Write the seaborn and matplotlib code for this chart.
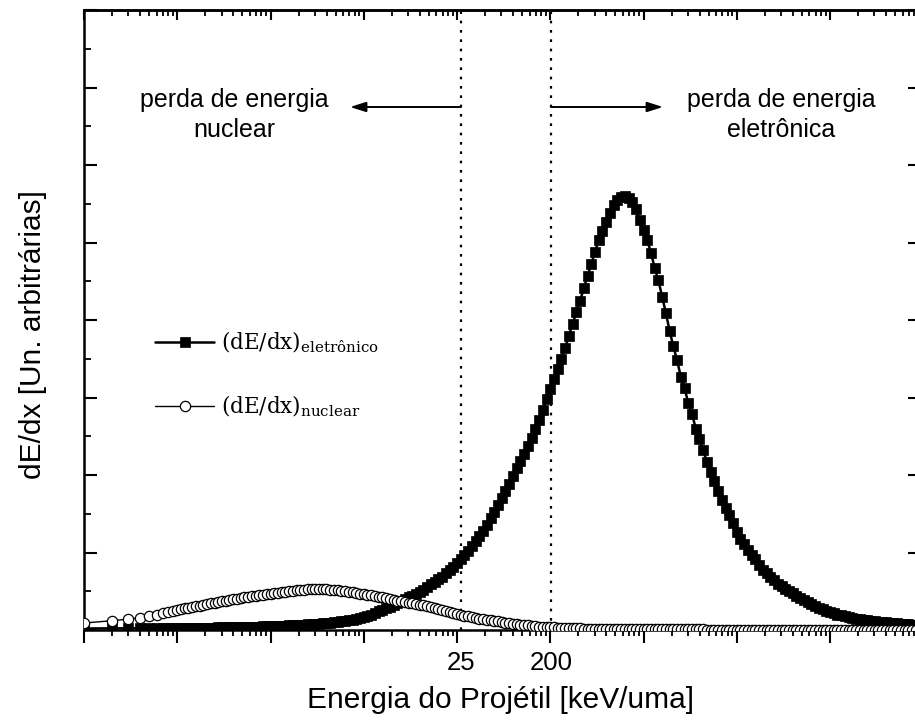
import numpy as np
import pandas as pd
import matplotlib
matplotlib.use("Agg")
import matplotlib.pyplot as plt
import matplotlib.transforms as mtransforms
from matplotlib.ticker import LogLocator, MultipleLocator, NullFormatter, NullLocator
import seaborn as sns

# ---------------- data ----------------
# log10 of the projectile energy (arbitrary axis units, one decade per major tick)
log_energia = [
    0.000, 0.301, 0.477, 0.602, 0.699, 0.778, 0.845, 0.903, 0.954,
    1.00, 1.04, 1.08, 1.12, 1.16, 1.20, 1.24, 1.28, 1.32, 1.36,
    1.40, 1.44, 1.48, 1.52, 1.56, 1.60, 1.64, 1.68, 1.72, 1.76,
    1.80, 1.84, 1.88, 1.92, 1.96, 2.00, 2.04, 2.08, 2.12, 2.16,
    2.20, 2.24, 2.28, 2.32, 2.36, 2.40, 2.44, 2.48, 2.52, 2.56,
    2.60, 2.64, 2.68, 2.72, 2.76, 2.80, 2.84, 2.88, 2.92, 2.96,
    3.00, 3.04, 3.08, 3.12, 3.16, 3.20, 3.24, 3.28, 3.32, 3.36,
    3.40, 3.44, 3.48, 3.52, 3.56, 3.60, 3.64, 3.68, 3.72, 3.76,
    3.80, 3.84, 3.88, 3.92, 3.96, 4.00, 4.04, 4.08, 4.12, 4.16,
    4.20, 4.24, 4.28, 4.32, 4.36, 4.40, 4.44, 4.48, 4.52, 4.56,
    4.60, 4.64, 4.68, 4.72, 4.76, 4.80, 4.84, 4.88, 4.92, 4.96,
    5.00, 5.04, 5.08, 5.12, 5.16, 5.20, 5.24, 5.28, 5.32, 5.36,
    5.40, 5.44, 5.48, 5.52, 5.56, 5.60, 5.64, 5.68, 5.72, 5.76,
    5.80, 5.84, 5.88, 5.92, 5.96, 6.00, 6.04, 6.08, 6.12, 6.16,
    6.20, 6.24, 6.28, 6.32, 6.36, 6.40, 6.44, 6.48, 6.52, 6.56,
    6.60, 6.64, 6.68, 6.72, 6.76, 6.80, 6.84, 6.88, 6.92, 6.96,
    7.00, 7.04, 7.08, 7.12, 7.16, 7.20, 7.24, 7.28, 7.32, 7.36,
    7.40, 7.44, 7.48, 7.52, 7.56, 7.60, 7.64, 7.68, 7.72, 7.76,
    7.80, 7.84, 7.88, 7.92, 7.96, 8.00, 8.04, 8.08, 8.12, 8.16,
    8.20, 8.24, 8.28, 8.32, 8.36, 8.40, 8.44, 8.48, 8.52, 8.56,
    8.60, 8.64, 8.68, 8.72, 8.76, 8.80, 8.84, 8.88, 8.92,
]

dedx_eletronico = [
    0.020, 0.021, 0.021, 0.022, 0.022, 0.023, 0.023, 0.024, 0.024,
    0.025, 0.026, 0.026, 0.027, 0.028, 0.029, 0.030, 0.030, 0.031, 0.032,
    0.032, 0.033, 0.034, 0.034, 0.035, 0.036, 0.037, 0.038, 0.039, 0.041,
    0.042, 0.043, 0.045, 0.046, 0.048, 0.049, 0.051, 0.053, 0.055, 0.057,
    0.059, 0.061, 0.064, 0.067, 0.070, 0.073, 0.076, 0.079, 0.083, 0.087,
    0.091, 0.096, 0.101, 0.107, 0.113, 0.120, 0.127, 0.135, 0.143, 0.152,
    0.165, 0.180, 0.200, 0.220, 0.240, 0.260, 0.280, 0.300, 0.320, 0.345,
    0.370, 0.395, 0.420, 0.445, 0.470, 0.495, 0.520, 0.555, 0.590, 0.625,
    0.660, 0.690, 0.730, 0.770, 0.815, 0.860, 0.910, 0.965, 1.020, 1.080,
    1.145, 1.210, 1.280, 1.360, 1.440, 1.520, 1.610, 1.700, 1.800, 1.890,
    1.990, 2.090, 2.180, 2.270, 2.370, 2.480, 2.590, 2.710, 2.840, 2.980,
    3.110, 3.240, 3.370, 3.500, 3.640, 3.800, 3.950, 4.100, 4.250, 4.410,
    4.570, 4.720, 4.880, 5.030, 5.150, 5.270, 5.380, 5.480, 5.550, 5.590,
    5.600, 5.580, 5.520, 5.430, 5.290, 5.160, 5.030, 4.870, 4.670, 4.510,
    4.300, 4.090, 3.860, 3.660, 3.480, 3.270, 3.120, 2.930, 2.790, 2.600,
    2.460, 2.320, 2.170, 2.040, 1.920, 1.800, 1.680, 1.580, 1.490, 1.380,
    1.270, 1.180, 1.110, 1.030, 0.965, 0.910, 0.840, 0.770, 0.730, 0.680,
    0.640, 0.600, 0.570, 0.535, 0.505, 0.475, 0.440, 0.410, 0.385, 0.360,
    0.335, 0.310, 0.290, 0.270, 0.250, 0.230, 0.215, 0.200, 0.190, 0.175,
    0.165, 0.155, 0.145, 0.138, 0.131, 0.125, 0.119, 0.114, 0.108, 0.103,
    0.098, 0.094, 0.089, 0.085, 0.081, 0.077, 0.073, 0.069, 0.066,
]

dedx_nuclear = [
    0.090, 0.120, 0.140, 0.160, 0.180, 0.200, 0.215, 0.235, 0.250,
    0.260, 0.270, 0.280, 0.290, 0.300, 0.307, 0.315, 0.324, 0.333, 0.342,
    0.351, 0.360, 0.369, 0.378, 0.386, 0.395, 0.404, 0.413, 0.421, 0.429,
    0.436, 0.443, 0.449, 0.455, 0.461, 0.467, 0.474, 0.481, 0.488, 0.495,
    0.502, 0.508, 0.513, 0.517, 0.521, 0.524, 0.526, 0.527, 0.528, 0.527,
    0.525, 0.522, 0.518, 0.514, 0.509, 0.503, 0.496, 0.488, 0.479, 0.470,
    0.463, 0.456, 0.449, 0.442, 0.432, 0.421, 0.410, 0.400, 0.390, 0.380,
    0.370, 0.360, 0.354, 0.345, 0.336, 0.327, 0.318, 0.310, 0.298, 0.287,
    0.275, 0.263, 0.250, 0.236, 0.222, 0.208, 0.197, 0.186, 0.176, 0.166,
    0.157, 0.148, 0.140, 0.132, 0.125, 0.118, 0.110, 0.102, 0.094, 0.087,
    0.081, 0.075, 0.069, 0.064, 0.059, 0.054, 0.049, 0.045, 0.041, 0.038,
    0.035, 0.033, 0.031, 0.029, 0.027, 0.025, 0.023, 0.022, 0.020, 0.019,
    0.018, 0.017, 0.016, 0.015, 0.0145, 0.014, 0.0135, 0.013, 0.0125, 0.012,
    0.0117, 0.0114, 0.0111, 0.0108, 0.0105, 0.0102, 0.0099, 0.0096, 0.0093, 0.009,
    0.0088, 0.0086, 0.0084, 0.0082, 0.008, 0.0078, 0.0076, 0.0074, 0.0072, 0.007,
    0.0068, 0.0066, 0.0064, 0.0062, 0.006, 0.0059, 0.0058, 0.0057, 0.0056, 0.0055,
    0.0053, 0.0052, 0.0051, 0.005, 0.0049, 0.0048, 0.0047, 0.0046, 0.0045, 0.0044,
    0.0043, 0.0042, 0.0041, 0.004, 0.0039, 0.0038, 0.0037, 0.0036, 0.0035, 0.0034,
    0.0033, 0.0032, 0.0031, 0.003, 0.0029, 0.0028, 0.0028, 0.0027, 0.0027, 0.0026,
    0.0026, 0.0025, 0.0025, 0.0024, 0.0024, 0.0023, 0.0023, 0.0022, 0.0022, 0.0021,
    0.0021, 0.002, 0.002, 0.002, 0.0019, 0.0019, 0.0019, 0.0018, 0.0018,
]

# energies of the two regime boundaries and their printed labels
limites_energia = [1.1e4, 1.02e5]
rotulos_limites = ["25", "200"]

serie_eletronico = r"(dE/dx)$_{\mathregular{eletrônico}}$"
serie_nuclear = r"(dE/dx)$_{\mathregular{nuclear}}$"
texto_nuclear = "perda de energia\nnuclear"
texto_eletronico = "perda de energia\neletrônica"
titulo_x = "Energia do Projétil [keV/uma]"
titulo_y = "dE/dx [Un. arbitrárias]"

# ---------------- figure ----------------
sns.set_style("ticks")
plt.rcParams["font.family"] = ["Liberation Sans", "DejaVu Sans"]
plt.rcParams["mathtext.fontset"] = "dejavuserif"
plt.rcParams["text.color"] = "black"
plt.rcParams["axes.labelcolor"] = "black"
plt.rcParams["axes.edgecolor"] = "black"

W, H = 915, 720
fig = plt.figure(figsize=(W / 100, H / 100), dpi=100)
L, R, B, T = 84, 919, 630, 10
ax = fig.add_axes([L / W, (H - B) / H, (R - L) / W, (B - T) / H])
ax.set_xscale("log")

df = pd.DataFrame({
    "energia": [10 ** v for v in log_energia],
    "eletronico": dedx_eletronico,
    "nuclear": dedx_nuclear,
})

sns.lineplot(data=df, x="energia", y="eletronico", ax=ax, color="black",
             lw=1.8, marker="s", ms=7.2, mfc="black", mec="black", mew=0.5,
             label=serie_eletronico, zorder=3, sort=False)
sns.lineplot(data=df, x="energia", y="nuclear", ax=ax, color="black",
             lw=1.0, marker="o", ms=7.4, mfc="white", mec="black", mew=0.9,
             label=serie_nuclear, zorder=4, sort=False)

ax.set_xlim(1, 10 ** ((R - L) / 93.25))
ax.set_ylim(0, 8)

# boundaries
blend = mtransforms.blended_transform_factory(ax.transData, ax.transAxes)
for xv, lab in zip(limites_energia, rotulos_limites):
    ax.axvline(xv, color="black", lw=1.6, linestyle=(0, (1.2, 3.0)), zorder=2)
    ax.text(xv, -0.053, lab, transform=blend, ha="center", va="center",
            fontsize=18.5, clip_on=False)

# regime annotations
ax.text((234 - L) / (R - L), (B - 115) / (B - T), texto_nuclear, transform=ax.transAxes,
        ha="center", va="center", fontsize=18, linespacing=1.3, multialignment="center")
ax.text((781 - L) / (R - L), (B - 115) / (B - T), texto_eletronico, transform=ax.transAxes,
        ha="center", va="center", fontsize=18, linespacing=1.3, multialignment="center")
arrow_kw = dict(arrowstyle="-|>,head_length=0.95,head_width=0.3", color="black",
                lw=1.4, shrinkA=0, shrinkB=0, mutation_scale=10)
ya = (B - 107) / (B - T)
ax.annotate("", xy=(10 ** 2.853, ya), xytext=(limites_energia[0], ya),
            xycoords=("data", "axes fraction"), textcoords=("data", "axes fraction"),
            arrowprops=arrow_kw)
ax.annotate("", xy=(10 ** 6.209, ya), xytext=(limites_energia[1], ya),
            xycoords=("data", "axes fraction"), textcoords=("data", "axes fraction"),
            arrowprops=arrow_kw)

# axis labels
ax.set_xlabel(titulo_x, fontsize=21.5, va="center")
ax.xaxis.set_label_coords((500 - L) / (R - L), (B - 700) / (B - T))
ax.set_ylabel(titulo_y, fontsize=21.5, va="center")
ax.yaxis.set_label_coords((33 - L) / (R - L), (B - 335) / (B - T))

# ticks
ax.xaxis.set_major_locator(LogLocator(base=10, numticks=30))
ax.xaxis.set_minor_locator(LogLocator(base=10, subs=np.arange(2, 10), numticks=30))
ax.xaxis.set_major_formatter(NullFormatter())
ax.xaxis.set_minor_formatter(NullFormatter())
ax.tick_params(axis="x", which="major", direction="out", length=9.5, width=1.5,
               top=False, bottom=True, color="black")
ax.tick_params(axis="x", which="minor", direction="out", length=4.5, width=1.3,
               top=False, bottom=True, color="black")
ax.yaxis.set_major_locator(MultipleLocator(1))
ax.yaxis.set_minor_locator(MultipleLocator(0.5))
ax.yaxis.set_major_formatter(NullFormatter())
ax.tick_params(axis="y", which="major", direction="in", length=9, width=1.5,
               left=True, right=False, labelleft=False, color="black")
ax.tick_params(axis="y", which="minor", direction="in", length=5, width=1.3,
               left=True, right=False, color="black")

top = ax.secondary_xaxis("top")
top.xaxis.set_major_locator(LogLocator(base=10, numticks=30))
top.xaxis.set_minor_locator(LogLocator(base=10, subs=np.arange(2, 10), numticks=30))
top.xaxis.set_major_formatter(NullFormatter())
top.xaxis.set_minor_formatter(NullFormatter())
top.tick_params(axis="x", which="major", direction="in", length=7.5, width=1.5, color="black")
top.tick_params(axis="x", which="minor", direction="in", length=4.5, width=1.3, color="black")

right = ax.secondary_yaxis("right")
right.yaxis.set_major_locator(MultipleLocator(1))
right.yaxis.set_minor_locator(NullLocator())
right.yaxis.set_major_formatter(NullFormatter())
right.tick_params(axis="y", which="major", direction="in", length=8, width=1.5, color="black")

for a in (ax, top, right):
    for s in a.spines.values():
        s.set_linewidth(1.8)
        s.set_color("black")

leg = ax.legend(loc="upper left", bbox_to_anchor=((155 - L) / (R - L), (B - 330) / (B - T)),
                frameon=False, prop={"family": "DejaVu Serif", "size": 15.5},
                handlelength=2.75, handletextpad=0.3, labelspacing=1.8,
                borderaxespad=0, borderpad=0)
for t in leg.get_texts():
    t.set_color("black")

fig.savefig("out.png", dpi=100)
